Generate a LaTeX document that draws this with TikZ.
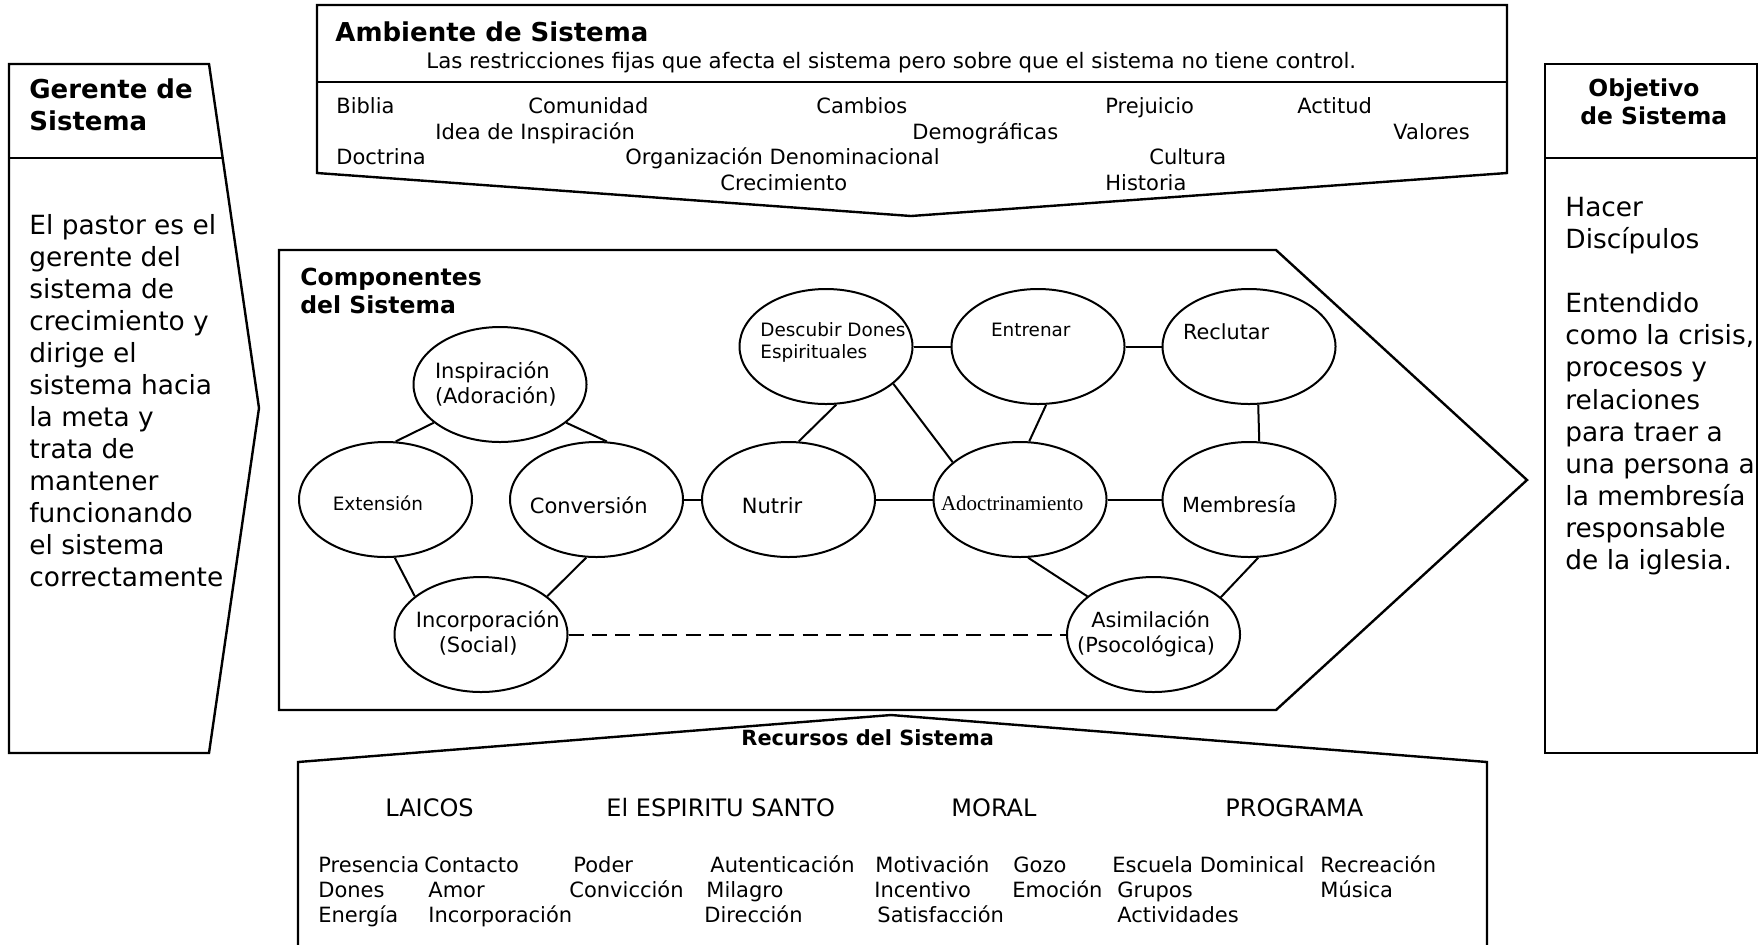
\documentclass[tikz,border=0pt]{standalone}
\usepackage{fontspec}
\setmainfont{DejaVu Sans}
\newfontfamily\tmsfont{Liberation Serif}
\usetikzlibrary{shapes.geometric}
\begin{document}
\begin{tikzpicture}[x=0.5pt,y=-0.5pt,
  box/.style={line width=1.2pt, line join=miter},
  ell/.style={draw, ellipse, line width=1pt, minimum width=86.5pt, minimum height=57.5pt, inner sep=0pt},
  lnk/.style={line width=1pt},
  txt/.style={anchor=base west, inner sep=0pt, align=left},
  fbody/.style={font=\fontsize{13.2pt}{16.04pt}\selectfont},
  fhead/.style={font=\bfseries\fontsize{13pt}{16pt}\selectfont},
  fobj/.style={font=\bfseries\fontsize{11.7pt}{14pt}\selectfont},
  fcomp/.style={font=\bfseries\fontsize{11.75pt}{14.15pt}\selectfont},
  fmid/.style={font=\fontsize{10.5pt}{12.5pt}\selectfont},
  fsub/.style={font=\fontsize{10.65pt}{12.5pt}\selectfont},
  fsmall/.style={font=\fontsize{9.2pt}{11pt}\selectfont},
  fnar/.style={font=\fontsize{10.4pt}{12.4pt}\selectfont},
  fcap/.style={font=\fontsize{12pt}{14pt}\selectfont},
  frec/.style={font=\bfseries\fontsize{10.45pt}{12pt}\selectfont},
  ftms/.style={font=\tmsfont\fontsize{10.5pt}{12.5pt}\selectfont}
]
\useasboundingbox (0,0) rectangle (1759,944);

% ---------- Gerente de Sistema ----------
\draw[box] (9,64) -- (209,64) -- (259,408) -- (209,753) -- (9,753) -- cycle;
\draw[box] (9,158) -- (223,158);
% multi-line nodes: base = baseline of the last line
\node[txt,fhead] (gh) at (29,130.5) {Gerente de\\Sistema};
\node[txt,fbody] (gb) at (29,586.9) {El pastor es el\\gerente del\\sistema de\\crecimiento y\\dirige el\\sistema hacia\\la meta y\\trata de\\mantener\\funcionando\\el sistema\\correctamente};

% ---------- Objetivo de Sistema ----------
\draw[box] (1545,64) rectangle (1757,753);
\draw[box] (1545,158) -- (1757,158);
\node[txt,fobj] (oh1) at (1588,96) {Objetivo};
\node[txt,fobj] (oh2) at (1580,124) {de Sistema};
\node[txt,fbody] (ob) at (1565,569.4) {Hacer\\Disc\'ipulos\\[16.04pt]Entendido\\como la crisis,\\procesos y\\relaciones\\para traer a\\una persona a\\la membres\'ia\\responsable\\de la iglesia.};

% ---------- Ambiente de Sistema ----------
\draw[box] (317,5) -- (1507,5) -- (1507,173) -- (911,216) -- (317,173) -- cycle;
\draw[box] (317,82) -- (1507,82);
\node[txt,fhead] (ah) at (335,41.5) {Ambiente de Sistema};
\node[txt,fsub] (as) at (426,68) {Las restricciones fijas que afecta el sistema pero sobre que el sistema no tiene control.};
\node[txt,fmid] (a1) at (336,113.5) {Biblia};
\node[txt,fmid] (a2) at (528,113.5) {Comunidad};
\node[txt,fmid] (a3) at (816,113.5) {Cambios};
\node[txt,fmid] (a4) at (1105,113.5) {Prejuicio};
\node[txt,fmid] (a5) at (1297,113.5) {Actitud};
\node[txt,fmid] (a6) at (435,139.5) {Idea de Inspiraci\'on};
\node[txt,fmid] (a7) at (912,139.5) {Demogr\'aficas};
\node[txt,fmid] (a8) at (1393,139.5) {Valores};
\node[txt,fmid] (a9) at (336,164.5) {Doctrina};
\node[txt,fmid] (a10) at (625,164.5) {Organizaci\'on Denominacional};
\node[txt,fmid] (a11) at (1149,164.5) {Cultura};
\node[txt,fmid] (a12) at (720,190.5) {Crecimiento};
\node[txt,fmid] (a13) at (1105,190.5) {Historia};

% ---------- Componentes del Sistema ----------
\draw[box] (279,250) -- (1276,250) -- (1527,480) -- (1276,710) -- (279,710) -- cycle;
\node[txt,fcomp] (ch) at (300,313.3) {Componentes\\del Sistema};

\node[ell] (insp) at (500,384.5) {};
\node[ell] (ext) at (385.5,499.5) {};
\node[ell] (conv) at (596.5,499.5) {};
\node[ell] (nutr) at (788.5,499.5) {};
\node[ell] (inc) at (481,634.5) {};
\node[ell] (desc) at (826,346.5) {};
\node[ell] (entr) at (1038,346.5) {};
\node[ell] (recl) at (1249,346.5) {};
\node[ell] (adoc) at (1020,499.5) {};
\node[ell] (memb) at (1249,499.5) {};
\node[ell] (asim) at (1153.5,634.5) {};

\node[txt,fmid] (tinsp) at (434.6,403.3) {Inspiraci\'on\\(Adoraci\'on)};
\node[txt,fsmall] (text) at (332.4,510) {Extensi\'on};
\node[txt,fmid] (tconv) at (529.5,513.3) {Conversi\'on};
\node[txt,fmid] (tnutr) at (741.5,513) {Nutrir};
\node[txt,fmid] (tinc1) at (415.4,627.3) {Incorporaci\'on};
\node[txt,fmid] (tinc2) at (438.4,652) {(Social)};
\node[txt,fsmall] (tdesc) at (760,358.7) {Descubir Dones\\Espirituales};
\node[txt,fsmall] (tentr) at (990.6,336.7) {Entrenar};
\node[txt,fnar] (trecl) at (1182.6,339.3) {Reclutar};
\node[txt,ftms] (tadoc) at (940.6,510) {Adoctrinamiento};
\node[txt,fnar] (tmemb) at (1181.7,512.7) {Membres\'ia};
\node[txt,fnar] (tasim1) at (1091,627.3) {Asimilaci\'on};
\node[txt,fnar] (tasim2) at (1076.8,652) {(Psocol\'ogica)};

\draw[lnk] (insp.210) -- (ext.80);
\draw[lnk] (insp.330.6) -- (conv.80);
\draw[lnk] (ext.279) -- (inc.150.3);
\draw[lnk] (conv.260.6) -- (inc.30);
\draw[lnk] (conv.east) -- (nutr.west);
\draw[lnk] (nutr.80.6) -- (desc.280);
\draw[lnk] (nutr.east) -- (adoc.west);
\draw[lnk] (desc.east) -- (entr.west);
\draw[lnk] (desc.331) -- (adoc.151);
\draw[lnk] (entr.278) -- (adoc.81.5);
\draw[lnk] (entr.east) -- (recl.west);
\draw[lnk] (recl.279.4) -- (memb.80.6);
\draw[lnk] (adoc.east) -- (memb.west);
\draw[lnk] (adoc.278.5) -- (asim.150);
\draw[lnk] (memb.279.3) -- (asim.29.4);
\draw[lnk, dash pattern=on 7.5pt off 4.2pt] (inc.east) -- (asim.west);

% ---------- Recursos del Sistema ----------
\draw[box] (298,950) -- (298,762) -- (891,715) -- (1487,762) -- (1487,950);
\node[txt,frec] (rh) at (741,745) {Recursos del Sistema};
\node[txt,fcap] (r1) at (385,816.5) {LAICOS};
\node[txt,fcap] (r2) at (606,816.5) {El ESPIRITU SANTO};
\node[txt,fcap] (r3) at (951,816.5) {MORAL};
\node[txt,fcap] (r4) at (1225,816.5) {PROGRAMA};

\node[txt,fmid] (b1) at (318,872) {Presencia};
\node[txt,fmid] (b2) at (424,872) {Contacto};
\node[txt,fmid] (b3) at (573,872) {Poder};
\node[txt,fmid] (b4) at (710,872) {Autenticaci\'on};
\node[txt,fmid] (b5) at (875,872) {Motivaci\'on};
\node[txt,fmid] (b6) at (1013,872) {Gozo};
\node[txt,fmid] (b7) at (1112,872) {Escuela Dominical};
\node[txt,fmid] (b8) at (1320,872) {Recreaci\'on};
\node[txt,fmid] (b9) at (318,897) {Dones};
\node[txt,fmid] (b10) at (428,897) {Amor};
\node[txt,fmid] (b11) at (569,897) {Convicci\'on};
\node[txt,fmid] (b12) at (706,897) {Milagro};
\node[txt,fmid] (b13) at (874,897) {Incentivo};
\node[txt,fmid] (b14) at (1012,897) {Emoci\'on};
\node[txt,fmid] (b15) at (1117,897) {Grupos};
\node[txt,fmid] (b16) at (1320,897) {M\'usica};
\node[txt,fmid] (b17) at (318,922) {Energ\'ia};
\node[txt,fmid] (b18) at (428,922) {Incorporaci\'on};
\node[txt,fmid] (b19) at (704,922) {Direcci\'on};
\node[txt,fmid] (b20) at (877,922) {Satisfacci\'on};
\node[txt,fmid] (b21) at (1117,922) {Actividades};
\end{tikzpicture}
\end{document}
